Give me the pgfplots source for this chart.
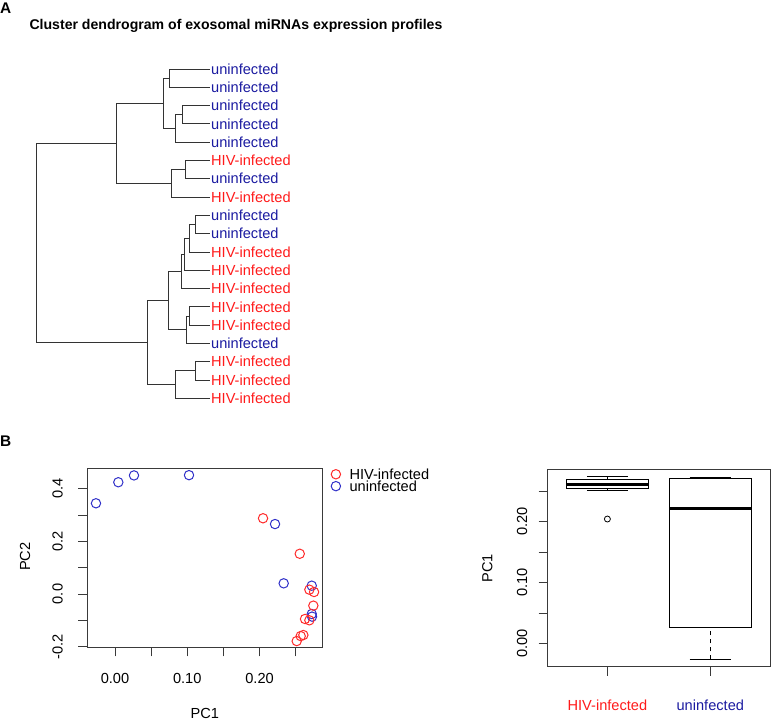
\documentclass[border=0pt]{standalone}
\usepackage{pgfplots}
\pgfplotsset{compat=1.18}
\usepgfplotslibrary{statistics}
\usepackage{fontspec}
\setmainfont{Liberation Sans}
\definecolor{labblue}{HTML}{1A1AA0}
\definecolor{labred}{HTML}{FF1A1A}
\definecolor{ptblue}{HTML}{3030C8}
\definecolor{ptred}{HTML}{FF2A2A}
\definecolor{framec}{HTML}{3A3A3A}
\newcommand{\fs}{\fontsize{14.6bp}{17bp}\selectfont}
\newcommand{\U}{\textcolor{labblue}{uninfected}}
\newcommand{\HIV}{\textcolor{labred}{HIV-infected}}
\pgfplotsset{
  dline/.style={color=black!80, solid, line width=0.9bp, mark=none},
  Rbox/.style={
    boxplot/draw direction=y,
    boxplot/box extend=0.8,
    boxplot/whisker extend=0.4,
    boxplot/every median/.style={line width=3bp},
  },
  /pgfplots/boxplot/draw/lower whisker/.code={%
    \draw[dash pattern=on 4bp off 4bp]
      (boxplot cs:\pgfplotsboxplotvalue{lower whisker}) -- (boxplot cs:\pgfplotsboxplotvalue{lower quartile});
    \draw (boxplot whisker cs:\pgfplotsboxplotvalue{lower whisker},0) -- (boxplot whisker cs:\pgfplotsboxplotvalue{lower whisker},1);
  },
  /pgfplots/boxplot/draw/upper whisker/.code={%
    \draw[dash pattern=on 4bp off 4bp]
      (boxplot cs:\pgfplotsboxplotvalue{upper whisker}) -- (boxplot cs:\pgfplotsboxplotvalue{upper quartile});
    \draw (boxplot whisker cs:\pgfplotsboxplotvalue{upper whisker},0) -- (boxplot whisker cs:\pgfplotsboxplotvalue{upper whisker},1);
  },
}

\begin{document}
\begin{tikzpicture}
\path[use as bounding box] (0,0) rectangle (771bp,-721bp);
\node[anchor=base west, inner sep=0, font=\fontsize{15.4bp}{18bp}\selectfont\bfseries] at (0bp,-13bp) {A};
\node[anchor=base west, inner sep=0, font=\fontsize{14.1bp}{17bp}\selectfont\bfseries] at (29.3bp,-29bp) {Cluster dendrogram of exosomal miRNAs expression profiles};
\node[anchor=base west, inner sep=0, font=\fontsize{15.4bp}{18bp}\selectfont\bfseries] at (0bp,-446bp) {B};

% ---------------- dendrogram ----------------
\begin{axis}[
  at={(36.7bp,-69bp)}, anchor=north west,
  scale only axis, width=173.3bp, height=329.3bp,
  xmin=0, xmax=1.733, ymin=1, ymax=19,
  x dir=reverse, y dir=reverse,
  enlargelimits=false, clip=false,
  axis line style={draw=none},
  xtick=\empty,
  ytick={1,...,19},
  yticklabels={\U,\U,\U,\U,\U,\HIV,\U,\HIV,\U,\U,\HIV,\HIV,\HIV,\HIV,\HIV,\U,\HIV,\HIV,\HIV},
  yticklabel pos=right,
  major tick length=0pt,
  yticklabel style={anchor=west, inner sep=0pt, xshift=1bp, font=\fs},
]
% top cluster
\addplot[dline] coordinates {(0,1) (0.407,1) (0.407,2) (0,2)};
\addplot[dline] coordinates {(0,3) (0.273,3) (0.273,4) (0,4)};
\addplot[dline] coordinates {(0.273,3.5) (0.343,3.5) (0.343,5) (0,5)};
\addplot[dline] coordinates {(0.407,1.5) (0.467,1.5) (0.467,4.25) (0.343,4.25)};
\addplot[dline] coordinates {(0,6) (0.25,6) (0.25,7) (0,7)};
\addplot[dline] coordinates {(0.25,6.5) (0.383,6.5) (0.383,8) (0,8)};
\addplot[dline] coordinates {(0.467,2.875) (0.933,2.875) (0.933,7.25) (0.383,7.25)};
% bottom cluster
\addplot[dline] coordinates {(0,9) (0.143,9) (0.143,10) (0,10)};
\addplot[dline] coordinates {(0.143,9.5) (0.207,9.5) (0.207,11) (0,11)};
\addplot[dline] coordinates {(0.207,10.25) (0.257,10.25) (0.257,12) (0,12)};
\addplot[dline] coordinates {(0.257,11.125) (0.29,11.125) (0.29,13) (0,13)};
\addplot[dline] coordinates {(0,14) (0.207,14) (0.207,15) (0,15)};
\addplot[dline] coordinates {(0.207,14.5) (0.233,14.5) (0.233,16) (0,16)};
\addplot[dline] coordinates {(0.29,12.0625) (0.417,12.0625) (0.417,15.25) (0.233,15.25)};
\addplot[dline] coordinates {(0,17) (0.143,17) (0.143,18) (0,18)};
\addplot[dline] coordinates {(0.143,17.5) (0.343,17.5) (0.343,19) (0,19)};
\addplot[dline] coordinates {(0.417,13.656) (0.627,13.656) (0.627,18.25) (0.343,18.25)};
% root
\addplot[dline] coordinates {(0.933,5.0625) (1.733,5.0625) (1.733,15.953) (0.627,15.953)};
\end{axis}

% ---------------- PCA scatter ----------------
\begin{axis}[
  at={(87.3bp,-647.3bp)}, anchor=south west,
  scale only axis, width=235bp, height=179bp,
  xmin=-0.0383, xmax=0.2868, ymin=-0.2027, ymax=0.478,
  axis line style={framec, line width=0.8bp},
  tick style={framec, line width=0.8bp},
  tick align=outside, major tick length=9bp,
  tick pos=left,
  xtick={0,0.05,0.1,0.15,0.2,0.25}, xticklabels={0.00,,0.10,,0.20,},
  ytick={-0.2,-0.1,0,0.1,0.2,0.3,0.4}, yticklabels={-0.2,,0.0,,0.2,,0.4},
  ticklabel style={font=\fs},
  xticklabel style={anchor=north},
  xticklabel shift=13bp,
  yticklabel style={rotate=90, anchor=south},
  yticklabel shift=12bp,
  ylabel={PC2}, label style={font=\fs},
  ylabel style={at={(axis description cs:-0.265,0.506)}, anchor=center},
  legend style={draw=none, fill=none, font=\fs, at={(axis description cs:1.0,1.0)}, anchor=north west,
    xshift=8.7bp, yshift=0.5bp, inner sep=0pt, row sep=-0.6bp, column sep=8bp,
    nodes={inner sep=1bp, text height=10.5bp, text depth=0bp}},
  legend cell align=left,
  legend image code/.code={\draw[mark repeat=2,mark phase=2,#1] plot coordinates {(0bp,0bp) (5bp,0bp) (10bp,0bp)};},
  clip=false,
]
\addplot[only marks, mark=o, mark size=4.7bp, line width=1bp, ptblue, forget plot] coordinates {
(-0.0263,0.345) (0.0046,0.425) (0.0263,0.451) (0.1024,0.452) (0.2214,0.266)
(0.2334,0.0406) (0.2722,0.0317) (0.2722,-0.076) (0.2726,-0.086)};
\addplot[only marks, mark=o, mark size=4.7bp, line width=1bp, ptred, forget plot] coordinates {
(0.2048,0.288) (0.2556,0.153) (0.2689,0.0165) (0.2754,0.0076) (0.2744,-0.0443)
(0.2629,-0.095) (0.2689,-0.100) (0.2569,-0.160) (0.2606,-0.156) (0.2514,-0.179)};
\addlegendimage{only marks, mark=o, mark size=4.7bp, line width=1bp, ptred}
\addlegendentry{HIV-infected}
\addlegendimage{only marks, mark=o, mark size=4.7bp, line width=1bp, ptblue}
\addlegendentry{uninfected}
\end{axis}
\node[font=\fs] at (204.8bp,-713bp) {PC1};

% ---------------- boxplot ----------------
\begin{axis}[
  at={(547.7bp,-666.7bp)}, anchor=south west,
  scale only axis, width=222.3bp, height=197.7bp,
  xmin=0.42, xmax=2.58, ymin=-0.0377, ymax=0.2864,
  axis line style={framec, line width=0.8bp},
  tick style={framec, line width=0.8bp},
  tick align=outside, major tick length=9bp,
  tick pos=left,
  xtick={1,2}, xticklabels={\HIV,\U},
  ytick={0,0.05,0.1,0.15,0.2,0.25}, yticklabels={0.00,,0.10,,0.20,},
  ticklabel style={font=\fs},
  xticklabel style={anchor=north},
  xticklabel shift=21bp,
  yticklabel style={rotate=90, anchor=south},
  yticklabel shift=8bp,
  ylabel={PC1}, label style={font=\fs},
  ylabel style={at={(axis description cs:-0.272,0.498)}, anchor=center},
  Rbox,
  clip=false,
]
\addplot[black, line width=0.8bp, mark=o, mark size=3bp, solid,
  boxplot prepared={draw position=1, lower whisker=0.2508, lower quartile=0.2548,
    median=0.2618, upper quartile=0.2695, upper whisker=0.2749}]
  table[row sep=\\, y index=0] {0.2044\\};
\addplot[black, line width=0.8bp, solid,
  boxplot prepared={draw position=2, lower whisker=-0.0256, lower quartile=0.0262,
    median=0.2213, upper quartile=0.2711, upper whisker=0.2728}]
  coordinates {};
\end{axis}
\end{tikzpicture}
\end{document}
